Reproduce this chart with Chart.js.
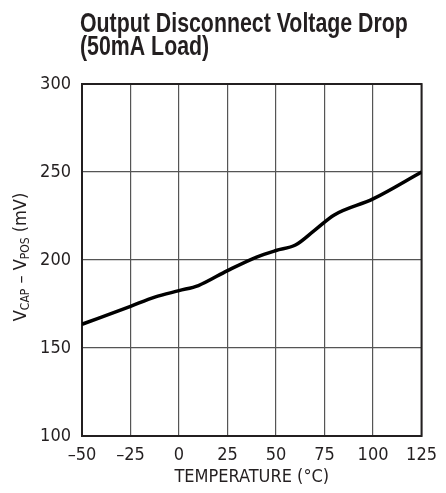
<!DOCTYPE html>
<html>
<head>
<meta charset="utf-8">
<script src="https://cdn.jsdelivr.net/npm/chart.js@4/dist/chart.umd.min.js"></script>
<style>
html,body{margin:0;padding:0;background:#fff;}
#wrap{position:relative;width:446px;height:493px;}
</style>
</head>
<body>
<div id="wrap"><canvas id="c" width="446" height="493"></canvas></div>
<script>
const temperatures = [-50, -25, -12.5, 0, 10, 25, 40, 50, 60, 70, 80, 100, 125];
const voltageDrop = [163.5, 173.7, 178.9, 182.6, 185.5, 194, 201.7, 205.4, 208.5, 217, 225.6, 234.7, 250];
const xTickValues = [-50, -25, 0, 25, 50, 75, 100, 125];
const xTickLabels = ['\u201350', '\u201325', '0', '25', '50', '75', '100', '125'];
const yTickValues = [100, 150, 200, 250, 300];
const yTickLabels = ['100', '150', '200', '250', '300'];
const titleLines = ['Output Disconnect Voltage Drop', '(50mA Load)'];
const xTitle = 'TEMPERATURE (\u00B0C)';
const yTitleParts = [['V', false], ['CAP', true], [' \u2013 V', false], ['POS', true], [' (mV)', false]];

const FONT = "'DejaVu Sans Condensed', 'Liberation Sans', sans-serif";
const TITLE_FONT = "bold 27px 'Liberation Sans', Arial, sans-serif";
const INK = '#231f20';

const framePlugin = {
  id: 'frame',
  beforeDatasetsDraw(chart) {
    const a = chart.chartArea, ctx = chart.ctx;
    ctx.save();
    ctx.strokeStyle = INK;
    ctx.lineWidth = 2;
    ctx.strokeRect(a.left, a.top, a.right - a.left, a.bottom - a.top);
    ctx.restore();
  }
};

const titlePlugin = {
  id: 'condensedTitle',
  afterDraw(chart) {
    const ctx = chart.ctx;
    ctx.save();
    ctx.font = TITLE_FONT;
    ctx.fillStyle = INK;
    ctx.textBaseline = 'alphabetic';
    ctx.textAlign = 'left';
    const baselines = [32, 54.5];
    titleLines.forEach((t, i) => {
      ctx.save();
      ctx.translate(80, baselines[i]);
      ctx.scale(0.79, 1);
      ctx.fillText(t, 0, 0);
      ctx.restore();
    });
    ctx.restore();
  }
};

const yTitlePlugin = {
  id: 'yTitle',
  afterDraw(chart) {
    const a = chart.chartArea, ctx = chart.ctx;
    const big = "18px " + FONT, small = "12px " + FONT;
    ctx.save();
    let total = 0;
    for (const [t, sub] of yTitleParts) { ctx.font = sub ? small : big; total += ctx.measureText(t).width; }
    ctx.translate(26, (a.top + a.bottom) / 2 - 3);
    ctx.rotate(-Math.PI / 2);
    ctx.fillStyle = INK;
    ctx.textBaseline = 'alphabetic';
    ctx.textAlign = 'left';
    let x = -total / 2;
    for (const [t, sub] of yTitleParts) {
      ctx.font = sub ? small : big;
      ctx.fillText(t, x, sub ? 3 : 0);
      x += ctx.measureText(t).width;
    }
    ctx.restore();
  }
};

new Chart(document.getElementById('c'), {
  type: 'line',
  data: {
    datasets: [{
      data: temperatures.map((t, i) => ({x: t, y: voltageDrop[i]})),
      borderColor: '#000',
      borderWidth: 3.5,
      pointRadius: 0,
      tension: 0.25,
      cubicInterpolationMode: 'monotone',
      fill: false
    }]
  },
  options: {
    responsive: false,
    animation: false,
    layout: {padding: {left: 0, right: 13, top: 84, bottom: 0}},
    plugins: {
      legend: {display: false},
      tooltip: {enabled: false},
      title: {display: false}
    },
    scales: {
      x: {
        type: 'linear',
        min: -50, max: 125,
        afterBuildTicks(s) { s.ticks = xTickValues.map(v => ({value: v})); },
        afterFit(s) { s.height = 57; },
        grid: {color: '#555', lineWidth: 1.2, drawTicks: false},
        border: {display: false},
        ticks: {
          color: INK, padding: 9,
          font: {family: FONT, size: 18},
          maxRotation: 0,
          callback: (v) => { const i = xTickValues.indexOf(v); return i >= 0 ? xTickLabels[i] : ''; }
        },
        title: {
          display: true, text: xTitle, color: INK,
          font: {family: FONT, size: 18},
          padding: {top: 2, bottom: 5}
        }
      },
      y: {
        type: 'linear',
        min: 100, max: 300,
        afterBuildTicks(s) { s.ticks = yTickValues.map(v => ({value: v})); },
        afterFit(s) { s.width = 82; },
        grid: {color: '#555', lineWidth: 1.2, drawTicks: false},
        border: {display: false},
        ticks: {
          color: INK, padding: 11,
          font: {family: FONT, size: 18},
          callback: (v) => { const i = yTickValues.indexOf(v); return i >= 0 ? yTickLabels[i] : ''; }
        }
      }
    }
  },
  plugins: [framePlugin, titlePlugin, yTitlePlugin]
});
</script>
</body>
</html>
